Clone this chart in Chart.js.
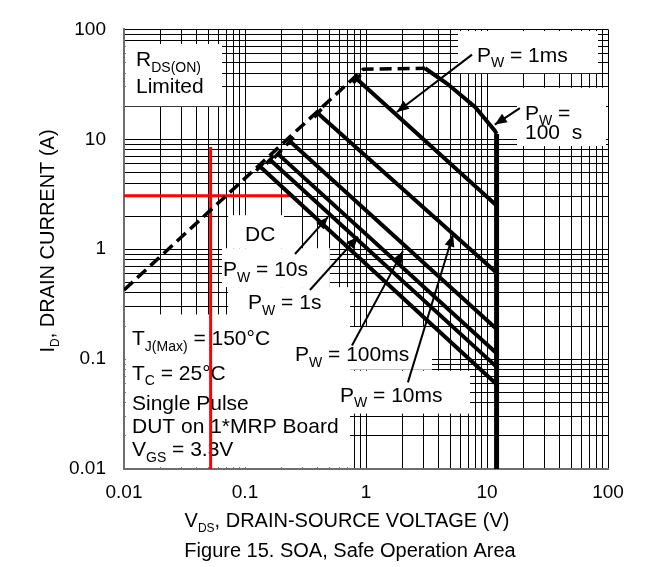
<!DOCTYPE html>
<html lang="en">
<head>
<meta charset="UTF-8">
<title>Figure 15. SOA, Safe Operation Area</title>
<style>
  html, body { margin: 0; padding: 0; background: #fff; }
  #wrap { width: 647px; height: 567px; }
</style>
<script src="https://cdn.jsdelivr.net/npm/chart.js"></script>
</head>
<body>
<div id="wrap"><canvas id="soa"></canvas></div>
<script>
    const FONT = "'Liberation Sans', Arial, Helvetica, sans-serif";

    // axis ticks (both axes are log, 0.01 .. 100)
    const decades = [0.01, 0.1, 1, 10, 100];
    const decadeLabels = ['0.01', '0.1', '1', '10', '100'];
    const minorSteps = [1, 2, 3, 4, 5, 6, 7, 8, 9];

    // curves, VDS (V) / ID (A)
    const rdsV = [0.01, 0.95, 3.07];
    const rdsI = [0.425, 43.5, 44.3];
    const pw100usV = [3.07, 4.7, 8.0, 11.6, 12];
    const pw100usI = [44.3, 32, 19.6, 12, 11.2];
    const vmaxV = [12, 12];
    const vmaxI = [11.2, 0.01];
    const pw1msV = [0.84, 12];
    const pw1msI = [35.4, 2.5];
    const pw10msV = [0.40, 12];
    const pw10msI = [17.3, 0.61];
    const pw100msV = [0.235, 12];
    const pw100msI = [9.6, 0.188];
    const pw1sV = [0.187, 12];
    const pw1sI = [7.37, 0.113];
    const pw10sV = [0.161, 12];
    const pw10sI = [6.52, 0.085];
    const dcV = [0.133, 12];
    const dcI = [5.65, 0.059];

    // red guide lines
    const guideVV = [0.052, 0.052];
    const guideVI = [8.5, 0.01];
    const guideHV = [0.01, 0.25];
    const guideHI = [3.07, 3.07];

    // label arrows: [from, to]
    const arrowV = [[7.52, 1.80], [18.7, 11.6], [0.259, 0.485], [0.344, 0.859], [0.766, 2.02], [2.22, 5.24]];
    const arrowI = [[58.9, 17.7], [19.2, 13.6], [0.904, 1.96], [0.425, 1.30], [0.133, 0.96], [0.0614, 1.36]];

    // white label boxes: [V0, V1], [I0, I1]
    const boxV = [[0.01, 0.0646], [5.76, 82.7], [17.7, 96.2], [0.0725, 0.210], [0.0646, 0.503],
                  [0.0725, 0.738], [0.01, 0.738], [0.214, 3.51], [0.738, 7.24]];
    const boxI = [[73.6, 20.0], [98, 40], [29.4, 8.67], [2.04, 1.02], [1.02, 0.452],
                  [0.452, 0.245], [0.255, 0.005], [0.196, 0.080], [0.0783, 0.0319]];

    // notes: text parts ([text, isSubscript]) and left/baseline position
    const noteParts = [
        [['R'], ['DS(ON)', 1]],
        [['Limited']],
        [['P'], ['W', 1], [' = 1ms']],
        [['P'], ['W', 1], [' =']],
        [['100  s']],
        [['DC']],
        [['P'], ['W', 1], [' = 10s']],
        [['P'], ['W', 1], [' = 1s']],
        [['T'], ['J(Max)', 1], [' = 150°C']],
        [['T'], ['C', 1], [' = 25°C']],
        [['Single Pulse']],
        [['DUT on 1*MRP Board']],
        [['V'], ['GS', 1], [' = 3.3V']],
        [['P'], ['W', 1], [' = 100ms']],
        [['P'], ['W', 1], [' = 10ms']]
    ];
    const noteV = [0.01257, 0.01257, 8.26, 20.6, 20.6, 0.1, 0.0658, 0.106,
                   0.01164, 0.01164, 0.01164, 0.01164, 0.01164, 0.259, 0.610];
    const noteI = [46.1, 26.6, 51.0, 15.0, 10.0, 1.18, 0.565, 0.283,
                   0.133, 0.0652, 0.0347, 0.0212, 0.0130, 0.096, 0.0408];

    const tickValues = decades.slice(0, -1).flatMap(d => minorSteps.map(m => d * m)).concat([100]);

    function pts(vs, is) {
        return vs.map((v, i) => ({ x: v, y: is[i] }));
    }

    // draws text with subscripts, returns its width
    function drawRich(ctx, parts, x, y, size, subSize, align) {
        const widths = parts.map(p => {
            ctx.font = (p[1] ? subSize : size) + 'px ' + FONT;
            return ctx.measureText(p[0]).width;
        });
        const total = widths.reduce((a, b) => a + b, 0);
        let cx = align === 'center' ? x - total / 2 : x;
        ctx.textAlign = 'left';
        ctx.textBaseline = 'alphabetic';
        parts.forEach((p, i) => {
            ctx.font = (p[1] ? subSize : size) + 'px ' + FONT;
            ctx.fillText(p[0], cx, p[1] ? y + size * 0.26 : y);
            cx += widths[i];
        });
        return total;
    }

    const notesPlugin = {
        id: 'soaNotes',
        beforeDatasetsDraw(chart) {
            const { ctx, chartArea: a, scales: { x, y } } = chart;
            ctx.save();
            ctx.beginPath();
            ctx.rect(a.left + 1.5, a.top + 1.5, a.width - 3, a.height - 3);
            ctx.clip();
            ctx.fillStyle = '#fff';
            boxV.forEach((bv, i) => {
                const x0 = x.getPixelForValue(bv[0]), x1 = x.getPixelForValue(bv[1]);
                const y0 = y.getPixelForValue(boxI[i][0]), y1 = y.getPixelForValue(boxI[i][1]);
                ctx.fillRect(x0, y0, x1 - x0, y1 - y0);
            });
            ctx.fillStyle = '#000';
            noteParts.forEach((parts, i) => {
                drawRich(ctx, parts, x.getPixelForValue(noteV[i]), y.getPixelForValue(noteI[i]), 21, 14, 'left');
            });
            ctx.restore();
        },
        afterDatasetsDraw(chart) {
            const { ctx, scales: { x, y } } = chart;
            ctx.save();
            // small end caps where the pulse lines leave the RDS(ON) line
            ctx.strokeStyle = '#000';
            ctx.lineWidth = 3.5;
            for (let d = 3; d <= 8; d++) {
                const p = chart.getDatasetMeta(d).data;
                const ang = Math.atan2(p[1].y - p[0].y, p[1].x - p[0].x);
                ctx.beginPath();
                ctx.moveTo(p[0].x - 5.5 * Math.sin(ang), p[0].y + 5.5 * Math.cos(ang));
                ctx.lineTo(p[0].x + 5.5 * Math.sin(ang), p[0].y - 5.5 * Math.cos(ang));
                ctx.stroke();
            }
            ctx.fillStyle = '#000';
            arrowV.forEach((av, i) => {
                const x0 = x.getPixelForValue(av[0]), y0 = y.getPixelForValue(arrowI[i][0]);
                const x1 = x.getPixelForValue(av[1]), y1 = y.getPixelForValue(arrowI[i][1]);
                const ang = Math.atan2(y1 - y0, x1 - x0);
                ctx.beginPath();
                ctx.moveTo(x1, y1);
                ctx.lineTo(x1 - 12 * Math.cos(ang) + 5 * Math.sin(ang), y1 - 12 * Math.sin(ang) - 5 * Math.cos(ang));
                ctx.lineTo(x1 - 12 * Math.cos(ang) - 5 * Math.sin(ang), y1 - 12 * Math.sin(ang) + 5 * Math.cos(ang));
                ctx.closePath();
                ctx.fill();
            });
            ctx.restore();
        },
        afterDraw(chart) {
            const { ctx } = chart;
            ctx.save();
            ctx.fillStyle = '#000';
            drawRich(ctx, [['V'], ['DS', 1], [', DRAIN-SOURCE VOLTAGE (V)']], 347, 527, 20, 12, 'center');
            ctx.font = '20px ' + FONT;
            ctx.textAlign = 'center';
            ctx.fillText('Figure 15. SOA, Safe Operation Area', 350, 557);
            ctx.translate(54, 241);
            ctx.rotate(-Math.PI / 2);
            drawRich(ctx, [['I'], ['D', 1], [', DRAIN CURRENT (A)']], 0, 0, 20, 12, 'center');
            ctx.restore();
        }
    };

    function line(data, width, color, dash) {
        return {
            data: data,
            showLine: true,
            borderColor: color || '#000',
            borderWidth: width,
            borderDash: dash || [],
            borderCapStyle: 'butt',
            borderJoinStyle: 'miter',
            pointRadius: 0,
            tension: 0
        };
    }

    const datasets = [
        line(pts(rdsV, rdsI), 3.5, '#000', [12, 6]),
        line(pts(pw100usV, pw100usI), 4),
        line(pts(vmaxV, vmaxI), 5),
        line(pts(pw1msV, pw1msI), 4),
        line(pts(pw10msV, pw10msI), 4),
        line(pts(pw100msV, pw100msI), 4),
        line(pts(pw1sV, pw1sI), 4),
        line(pts(pw10sV, pw10sI), 4),
        line(pts(dcV, dcI), 4),
        line(pts(guideVV, guideVI), 3, '#ff0000'),
        line(pts(guideHV, guideHI), 3, '#ff0000')
    ].concat(arrowV.map((av, i) => line(pts(av, arrowI[i]), 2)));

    function decadeLabel(value) {
        const i = decades.indexOf(value);
        return i >= 0 ? decadeLabels[i] : '';
    }

    function logAxis(fit, pad) {
        return {
            type: 'logarithmic',
            min: 0.01,
            max: 100,
            afterBuildTicks: s => { s.ticks = tickValues.map(v => ({ value: v })); },
            afterFit: fit,
            grid: { color: '#000', lineWidth: 1, drawTicks: false },
            border: { color: '#6e6e6e', width: 2 },
            ticks: {
                autoSkip: false,
                maxRotation: 0,
                padding: pad,
                color: '#000',
                font: { family: FONT, size: 19 },
                callback: decadeLabel
            }
        };
    }

    new Chart(document.getElementById('soa'), {
        type: 'scatter',
        data: { datasets: datasets },
        options: {
            responsive: true,
            maintainAspectRatio: false,
            animation: false,
            layout: { padding: { top: 17, right: 39, left: 0, bottom: 0 } },
            plugins: { legend: { display: false }, tooltip: { enabled: false } },
            scales: {
                x: logAxis(s => { s.height = 98; }, 12),
                y: logAxis(s => { s.width = 124; }, 18)
            }
        },
        plugins: [notesPlugin]
    });
</script>
</body>
</html>
